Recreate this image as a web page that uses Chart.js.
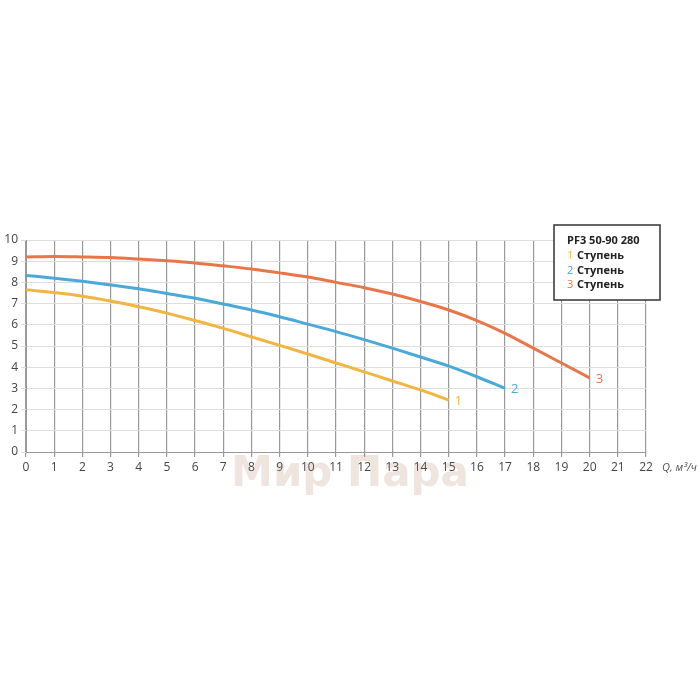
<!DOCTYPE html>
<html>
<head>
<meta charset="utf-8">
<script src="https://cdn.jsdelivr.net/npm/chart.js@4"></script>
<style>
  body { margin: 0; background: #fff; }
  #wrap { width: 700px; height: 700px; position: relative; }
</style>
</head>
<body>
<div id="wrap"><canvas id="c" width="700" height="700"></canvas></div>
<script>
// flow Q, m3/h
const flow = [0,1,2,3,4,5,6,7,8,9,10,11,12,13,14,15,16,17,18,19,20];
// head, m
const stage1 = [7.65,7.52,7.35,7.12,6.85,6.55,6.2,5.83,5.43,5.03,4.62,4.2,3.78,3.35,2.93,2.45];
const stage2 = [8.33,8.2,8.05,7.88,7.7,7.48,7.25,6.98,6.7,6.38,6.03,5.68,5.3,4.9,4.48,4.05,3.55,3.0];
const stage3 = [9.2,9.22,9.2,9.17,9.1,9.02,8.92,8.78,8.63,8.45,8.25,8.0,7.75,7.45,7.1,6.7,6.2,5.6,4.9,4.2,3.5];
const stageNames = ["1", "2", "3"];
const legendTitle = "PF3 50-90 280";
const colors = ["#f2b540", "#4aa9d8", "#e8764a"];

const pts = arr => arr.map((v, i) => ({ x: flow[i], y: v }));

const extras = {
  id: "extras",
  afterDraw(chart) {
    const ctx = chart.ctx, xs = chart.scales.x, ys = chart.scales.y;
    ctx.save();
    // end labels
    ctx.font = "13px 'Open Sans'";
    ctx.textBaseline = "middle";
    chart.data.datasets.forEach((ds, i) => {
      const p = ds.data[ds.data.length - 1];
      ctx.fillStyle = colors[i];
      ctx.fillText(stageNames[i], xs.getPixelForValue(p.x) + 6, ys.getPixelForValue(p.y) + 1);
    });
    // axis title
    ctx.fillStyle = "#555";
    ctx.font = "italic 11px 'Open Sans'";
    ctx.fillText("Q, м³/ч", xs.right + 16, xs.top + 16);
    // legend box
    const bx = 554, by = 225, bw = 106, bh = 75;
    ctx.fillStyle = "#fff";
    ctx.fillRect(bx, by, bw, bh);
    ctx.strokeStyle = "#333";
    ctx.lineWidth = 1.5;
    ctx.strokeRect(bx, by, bw, bh);
    ctx.font = "bold 11px 'Open Sans'";
    ctx.fillStyle = "#222";
    ctx.fillText(legendTitle, bx + 13, by + 16);
    stageNames.forEach((n, i) => {
      const y = by + 31 + i * 14.5;
      ctx.fillStyle = colors[i];
      ctx.font = "11px 'Open Sans'";
      ctx.fillText(n, bx + 13, y);
      ctx.fillStyle = "#222";
      ctx.font = "bold 11px 'Open Sans'";
      ctx.fillText("Ступень", bx + 23, y);
    });
    // watermark
    ctx.globalAlpha = 0.2;
    ctx.fillStyle = "#b07a5a";
    ctx.font = "bold 42px 'DejaVu Sans'";
    ctx.textAlign = "center";
    ctx.fillText("Мир Пара", 350, 475);
    ctx.restore();
  }
};

new Chart(document.getElementById("c"), {
  type: "line",
  data: {
    datasets: [stage1, stage2, stage3].map((d, i) => ({
      data: pts(d),
      borderColor: colors[i],
      borderWidth: 3,
      pointRadius: 0,
      cubicInterpolationMode: "monotone",
      fill: false
    }))
  },
  options: {
    responsive: false,
    animation: false,
    layout: { padding: { top: 240, bottom: 226, left: 2, right: 54 } },
    plugins: { legend: { display: false }, tooltip: { enabled: false } },
    scales: {
      x: {
        type: "linear", min: 0, max: 22,
        ticks: { stepSize: 1, color: "#444", font: { size: 12, family: "'Open Sans'" } },
        grid: { color: "#999", lineWidth: 1.2, drawTicks: true, tickLength: 5 },
        border: { color: "#999" },
        afterFit: s => { s.height = 22; }
      },
      y: {
        min: 0, max: 10,
        ticks: { stepSize: 1, color: "#444", font: { size: 12, family: "'Open Sans'" } },
        grid: { color: "#ddd", drawTicks: true, tickLength: 5 },
        border: { color: "#999" },
        afterFit: s => { s.width = 24; }
      }
    }
  },
  plugins: [extras]
});
</script>
</body>
</html>
